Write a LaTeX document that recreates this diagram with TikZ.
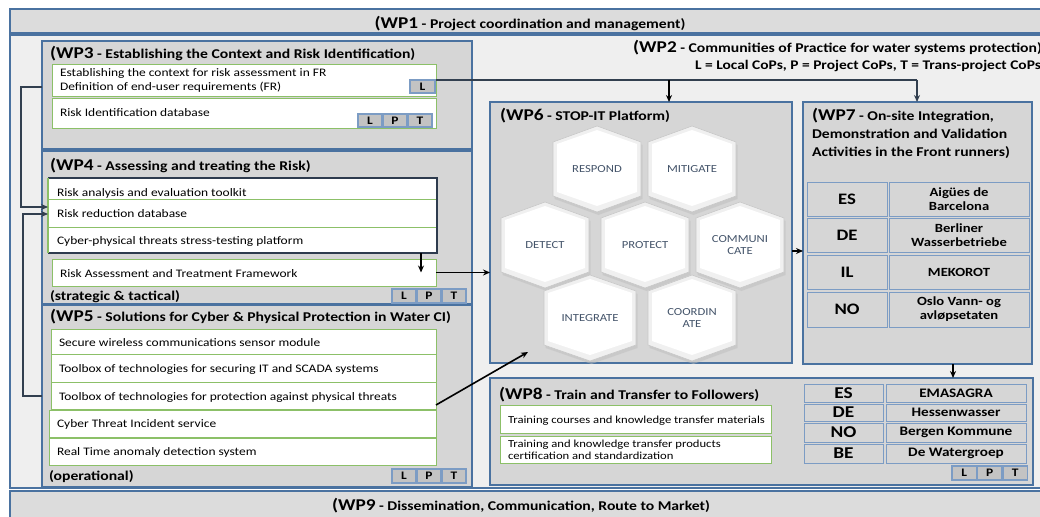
\documentclass[tikz,border=0pt]{standalone}
\usepackage{fontspec}
\setmainfont{Carlito}[FakeStretch=1.17]
\usetikzlibrary{arrows.meta,calc}
\definecolor{wpblue}{HTML}{4A72A0}
\definecolor{boxgray}{HTML}{D6D6D6}
\definecolor{bandgray}{HTML}{DCDCDC}
\definecolor{bgcol}{HTML}{EFEFEF}
\definecolor{itemgreen}{HTML}{8CC068}
\definecolor{cellblue}{HTML}{7C9CC4}
\definecolor{lptgray}{HTML}{C3C3C3}
\definecolor{conncol}{HTML}{323F4F}
\definecolor{framecol}{HTML}{2E3B4E}
\definecolor{hextxt}{HTML}{44546A}
\definecolor{hexrim}{HTML}{C8C8C8}
\definecolor{hexrimfill}{HTML}{F0F0F0}
\definecolor{hexshadow}{HTML}{BEBEBE}
\newcommand\fsz[1]{\fontsize{#1}{#1}\selectfont}
\newcommand\wpt[3][13.4]{{\fsz{16.5}\bfseries(WP#2}{\fsz{#1}\bfseries{} - #3)}}
\newcommand\rbox[7]{\node[#2, anchor=north west, minimum width={(#5)-(#3)}, minimum height={(#6)-(#4)}] (#1) at ({#3},{#4}) {#7};}
\newcommand\lpt[5]{%
 \rbox{#1L}{lpt}{#2}{#3}{#2+#4}{#3+#5}{L}%
 \rbox{#1P}{lpt}{#2+#4+1}{#3}{#2+2*#4+1}{#3+#5}{P}%
 \rbox{#1T}{lpt}{#2+2*#4+2}{#3}{#2+3*#4+2}{#3+#5}{T}}
\newcommand\hexa[5]{%
 \begin{scope}[shift={(#2,#3)}]
  \fill[hexshadow,opacity=0.5] (1.5,-40) -- (#5+1.5,-24) -- (#5+1.5,30) -- (1.5,46) -- (-#5+1.5,30) -- (-#5+1.5,-24) -- cycle;
  \filldraw[fill=hexrimfill, draw=hexrim, line width=0.6pt] (0,-43) -- (#5,-27) -- (#5,27) -- (0,43) -- (-#5,27) -- (-#5,-27) -- cycle;
  \fill[white] (0,-39) -- (#5-4,-25) -- (#5-4,23) -- (0,37) -- (-#5+4,23) -- (-#5+4,-25) -- cycle;
 \end{scope}
 \node[hextext] (#1) at (#2,#3) {#4};}
\begin{document}
\begin{tikzpicture}[x=1pt,y=-1pt,
  band/.style={draw=wpblue,line width=1.8pt,fill=bandgray,inner sep=0pt,outer sep=0pt},
  outerbox/.style={draw=wpblue,line width=1.8pt,fill=bgcol,inner sep=0pt,outer sep=0pt},
  wpbox/.style={draw=wpblue,line width=1.8pt,fill=boxgray,inner sep=0pt,outer sep=0pt},
  item/.style={draw=itemgreen,line width=0.9pt,fill=white,inner sep=0pt,outer sep=0pt},
  lpt/.style={draw=cellblue,line width=1.2pt,fill=lptgray,inner sep=0pt,outer sep=0pt,font=\fsz{11.5}\bfseries},
  cell/.style={draw=cellblue,line width=1pt,fill=boxgray,inner sep=0pt,outer sep=0pt,align=center},
  tt/.style={inner sep=0pt,outer sep=0pt},
  itx/.style={inner sep=0pt,outer sep=0pt,font=\fsz{11.5}},
  hextext/.style={inner sep=0pt,font=\fontsize{10.8}{12.5}\selectfont,text=hextxt,align=center},
  conn/.style={line width=1.6pt,draw=conncol,-{Stealth[length=7pt,width=6pt]}},
  blk/.style={line width=1.6pt,draw=black,-{Stealth[length=7pt,width=6pt]}},
  line/.style={line width=1.6pt,draw=conncol}
]
\useasboundingbox (0,0) rectangle (1040,516);
\clip (0,0) rectangle (1040,516);
\fill[white] (0,0) rectangle (1040,516);

% WP1, WP2, WP9
\rbox{wp1}{band}{10}{9}{1050}{33}{}
\node[tt,anchor=base] (wp1t) at (530,29) {\wpt{1}{Project coordination and management}};
\rbox{wp2}{outerbox}{10}{35}{1050}{488}{}
\node[tt,anchor=base east] (wp2t) at (1042,53) {\wpt{2}{Communities of Practice for water systems protection}};
\node[tt,anchor=base east,font=\fsz{13.2}\bfseries] (wp2l) at (1041,70) {L = Local CoPs, P = Project CoPs, T = Trans-project CoPs};
\rbox{wp9}{band}{10}{491}{1050}{525}{}
\node[tt,anchor=base] (wp9t) at (521,510) {\wpt{9}{Dissemination, Communication, Route to Market}};

% WP3
\rbox{wp3}{wpbox}{42}{41}{472}{149}{}
\node[tt,anchor=base west] (wp3t) at (50,59) {\wpt{3}{Establishing the Context and Risk Identification}};
\rbox{i31}{item}{52}{64}{436}{96}{}
\node[itx,anchor=base west] (i31a) at (60,77) {Establishing the context for risk assessment in FR};
\node[itx,anchor=base west] (i31b) at (60,91) {Definition of end-user requirements (FR)};
\rbox{l3}{lpt}{410}{80}{435}{93}{L}
\rbox{i32}{item}{52}{98}{436}{128}{}
\node[itx,anchor=base west] (i32a) at (60,117) {Risk Identification database};
\lpt{p3}{358}{114}{24}{13}

% WP4
\rbox{wp4}{wpbox}{42}{151}{472}{304}{}
\node[tt,anchor=base west] (wp4t) at (50,170) {\wpt{4}{Assessing and treating the Risk}};
\rbox{i41}{item}{48}{178}{437}{199}{}
\rbox{i42}{item}{48}{199}{437}{227}{}
\rbox{i43}{item}{48}{227}{437}{253}{}
\node[itx,anchor=base west] (i41a) at (57,196) {Risk analysis and evaluation toolkit};
\node[itx,anchor=base west] (i42a) at (57,217) {Risk reduction database};
\node[itx,anchor=base west] (i43a) at (57,244) {Cyber-physical threats stress-testing platform};
\rbox{fr}{tt}{48}{178}{437}{253}{}
\draw[framecol,line width=2pt] (fr.north west) -- (fr.north east) -- (fr.south east) -- (fr.south west);
\draw[itemgreen,line width=1.2pt] (fr.north west) -- (fr.south west);
\rbox{ratf}{item}{52}{259}{436}{286}{}
\node[itx,anchor=base west] (ratfa) at (60,277) {Risk Assessment and Treatment Framework};
\node[tt,anchor=base west,font=\fsz{13.4}\bfseries] (st) at (50,300) {(strategic \& tactical)};
\lpt{p4}{392}{289}{24}{14}

% WP5
\rbox{wp5}{wpbox}{42}{305}{472}{487}{}
\node[tt,anchor=base west] (wp5t) at (50,321) {\wpt{5}{Solutions for Cyber \& Physical Protection in Water CI}};
\rbox{i51}{item}{51}{329}{436}{354}{}
\rbox{i52}{item}{51}{354}{436}{382}{}
\rbox{i53}{item}{51}{382}{436}{409}{}
\rbox{i54}{item}{49}{410}{436}{437}{}
\rbox{i55}{item}{49}{438}{436}{465}{}
\node[itx,anchor=base west] (i51a) at (59,346) {Secure wireless communications sensor module};
\node[itx,anchor=base west] (i52a) at (59,372) {Toolbox of technologies for securing IT and SCADA systems};
\node[itx,anchor=base west] (i53a) at (59,400) {Toolbox of technologies for protection against physical threats};
\node[itx,anchor=base west] (i54a) at (57,427) {Cyber Threat Incident service};
\node[itx,anchor=base west] (i55a) at (57,455) {Real Time anomaly detection system};
\node[tt,anchor=base west,font=\fsz{13.4}\bfseries] (op) at (49,480) {(operational)};
\lpt{p5}{392}{469}{24}{14}

% WP6
\rbox{wp6}{wpbox}{490}{102}{792}{363}{}
\node[tt,anchor=base west] (wp6t) at (500,121) {\wpt{6}{STOP-IT Platform}};
\hexa{hres}{597}{169}{RESPOND}{44}
\hexa{hmit}{692}{169}{MITIGATE}{44}
\hexa{hdet}{545}{245}{DETECT}{44}
\hexa{hpro}{645}{245}{PROTECT}{44}
\hexa{hcom}{740}{245}{COMMUNI\\CATE}{44}
\hexa{hint}{590}{318}{INTEGRATE}{46}
\hexa{hcoo}{692}{318}{COORDIN\\ATE}{44}

% WP7
\rbox{wp7}{wpbox}{803}{102}{1032}{364}{}
\node[tt,anchor=base west] (wp7a) at (812,121) {{\fsz{16.5}\bfseries(WP7}{\fsz{13.4}\bfseries{} - On-site Integration,}};
\node[tt,anchor=base west,font=\fsz{13.4}\bfseries] (wp7b) at (812,139) {Demonstration and Validation};
\node[tt,anchor=base west,font=\fsz{13.4}\bfseries] (wp7c) at (812,156) {Activities in the Front runners)};
\rbox{c71}{cell,font=\fsz{16}\bfseries}{807}{182}{887}{216}{ES}
\rbox{c72}{cell,font=\fsz{16}\bfseries}{807}{218}{887}{252}{DE}
\rbox{c73}{cell,font=\fsz{16}\bfseries}{807}{255}{887}{289}{IL}
\rbox{c74}{cell,font=\fsz{16}\bfseries}{807}{292}{887}{327}{NO}
\rbox{d71}{cell,font=\fontsize{12.5}{14}\selectfont\bfseries}{889}{182}{1029}{216}{Aigües de\\Barcelona}
\rbox{d72}{cell,font=\fontsize{12.5}{14}\selectfont\bfseries}{889}{218}{1029}{252}{Berliner\\Wasserbetriebe}
\rbox{d73}{cell,font=\fsz{12.5}\bfseries}{889}{255}{1029}{289}{MEKOROT}
\rbox{d74}{cell,font=\fontsize{12.5}{14}\selectfont\bfseries}{889}{292}{1029}{327}{Oslo Vann- og\\avløpsetaten}

% WP8
\rbox{wp8}{wpbox}{490}{378}{1033}{485}{}
\node[tt,anchor=base west] (wp8t) at (499,399) {\wpt{8}{Train and Transfer to Followers}};
\rbox{i81}{item}{500}{405}{771}{433}{}
\rbox{i82}{item}{500}{436}{771}{463}{}
\node[itx,anchor=base west,font=\fsz{10.8}] (i81a) at (508,423) {Training courses and knowledge transfer materials};
\node[itx,anchor=base west,font=\fsz{10.8}] (i82a) at (508,447) {Training and knowledge transfer products};
\node[itx,anchor=base west,font=\fsz{10.8}] (i82b) at (508,459.5) {certification and standardization};
\rbox{c81}{cell,font=\fsz{16.5}\bfseries}{804}{384}{883}{402}{ES}
\rbox{c82}{cell,font=\fsz{16.5}\bfseries}{804}{404}{883}{421}{DE}
\rbox{c83}{cell,font=\fsz{16.5}\bfseries}{804}{423}{883}{442}{NO}
\rbox{c84}{cell,font=\fsz{16.5}\bfseries}{804}{444}{883}{463}{BE}
\rbox{d81}{cell,font=\fsz{13}\bfseries}{886}{384}{1026}{402}{EMASAGRA}
\rbox{d82}{cell,font=\fsz{13}\bfseries}{886}{404}{1026}{421}{Hessenwasser}
\rbox{d83}{cell,font=\fsz{13}\bfseries}{886}{423}{1026}{442}{Bergen Kommune}
\rbox{d84}{cell,font=\fsz{13}\bfseries}{886}{444}{1026}{463}{De Watergroep}
\lpt{p8}{952}{466}{24.5}{14}

% connectors
\coordinate (j1) at (669,80);
\coordinate (j2) at (917,80);
\draw[line] (i31.east) -- (j2);
\draw[conn] (j2) -- (wp7.north -| j2);
\draw[blk] (j1) -- (wp6.north -| j1);
\coordinate (a1) at (21,87);
\coordinate (b1) at (21,207);
\draw[conn] (a1 -| wp3.west) -- (a1) -- (b1) -- (b1 -| i42.west);
\coordinate (a2) at (23,396);
\coordinate (b2) at (23,214);
\draw[conn] (a2 -| wp5.west) -- (a2) -- (b2) -- (b2 -| i42.west);
\coordinate (c1) at (421,0);
\draw[blk] (c1 |- fr.south) -- (c1 |- ratf.center);
\draw[blk] (ratf.east) -- (ratf.east -| wp6.west);
\coordinate (d1) at (0,251);
\draw[blk] (wp6.east |- d1) -- (wp7.west |- d1);
\coordinate (e1) at (953,0);
\draw[blk] (wp7.south -| e1) -- (wp8.north -| e1);
\coordinate (t6) at (528,352);
\draw[blk] ($(i53.south east)+(0,-4)$) -- (t6);
\end{tikzpicture}
\end{document}
